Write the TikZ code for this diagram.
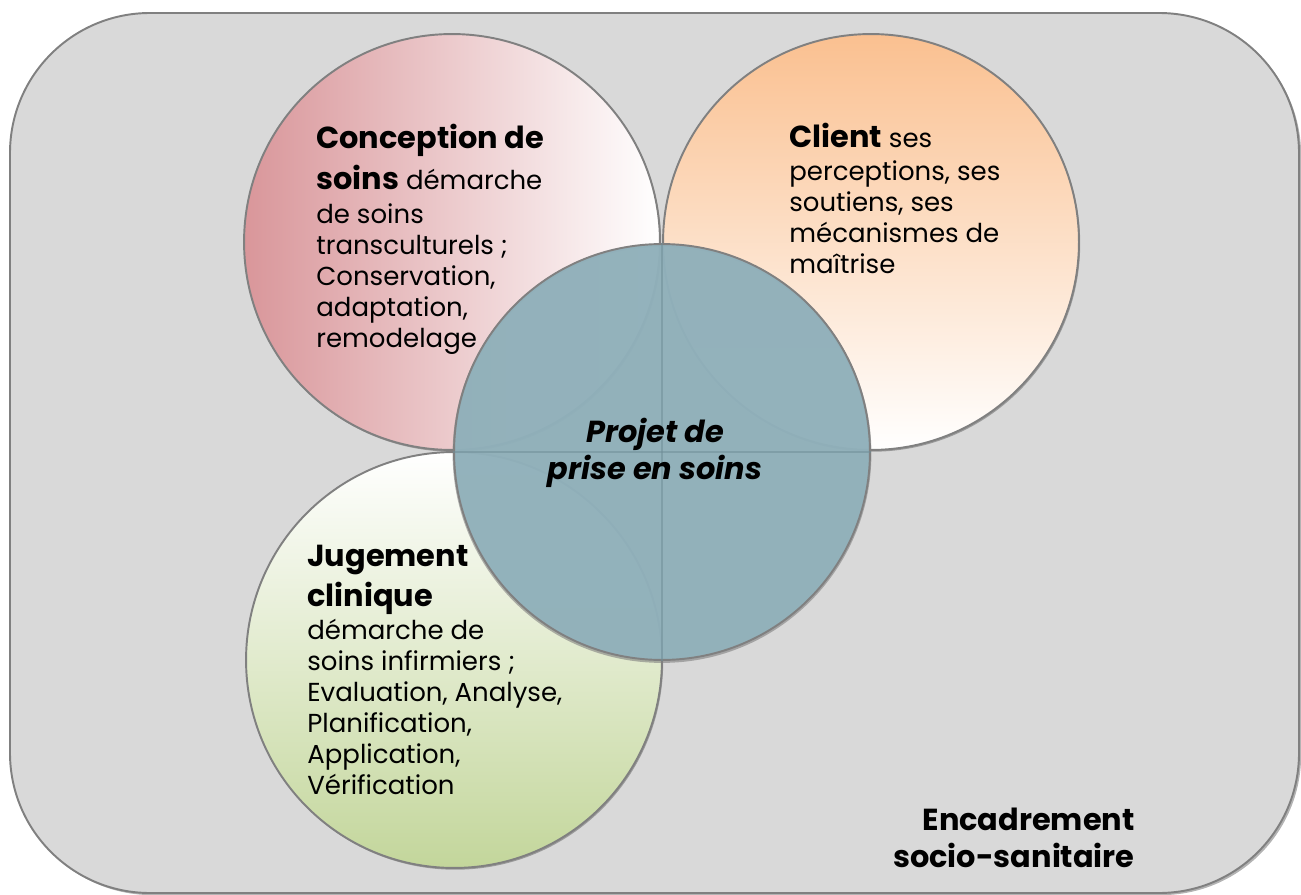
\documentclass[tikz,border=0pt]{standalone}
\usepackage{fontspec}
\setmainfont{Poppins}
\usepackage{tikz}
\usetikzlibrary{shadows}

\definecolor{frame}{RGB}{217,217,217}
\definecolor{edge}{RGB}{128,128,128}
\definecolor{rose}{RGB}{217,150,154}
\definecolor{peach}{RGB}{250,192,144}
\definecolor{sage}{RGB}{195,214,155}
\definecolor{teal}{RGB}{144,176,186}
\definecolor{cross}{RGB}{110,140,150}

\newcommand{\bhead}[1]{{\fontsize{17.3}{21}\selectfont\bfseries #1}}

\begin{document}
\begin{tikzpicture}[x=0.02cm, y=-0.02cm,
        disc/.style={circle, draw=edge, line width=1.1pt, minimum size=8.32cm, inner sep=0pt},
        bubble/.style={disc, drop shadow={shadow xshift=0.7pt, shadow yshift=-1pt, opacity=0.7, fill=edge}},
        blurb/.style={inner sep=0pt, align=left, anchor=north west, font=\fontsize{14.8}{17.6}\selectfont},
        bigtext/.style={inner sep=0pt, font=\fontsize{17.3}{21}\selectfont\bfseries}]
        \useasboundingbox (0,0) rectangle (1301,895);

        % Define the frame
        \draw[draw=edge, line width=1.1pt, fill=frame, rounded corners=2.8cm,
            drop shadow={shadow xshift=1.2pt, shadow yshift=-1.2pt, opacity=0.6, fill=edge}]
            (10,13) rectangle (1299,893);

        % Define the circles
        \node[bubble, left color=rose, right color=white] (concept) at (452,242) {};
        \node[bubble, top color=peach, bottom color=white] (client) at (871,242) {};
        \node[bubble, top color=white, bottom color=sage] (jugement) at (454,660) {};
        \draw[edge, line width=1.6pt, opacity=0.6] (662,453.5) circle[radius=208];
        \node[disc, fill=teal, fill opacity=0.97] (projet) at (662,452) {};

        % Define the cross
        \draw[cross, line width=1.6pt, opacity=0.5] (projet.north) -- (projet.south);
        \draw[cross, line width=1.6pt, opacity=0.5] (projet.west) -- (projet.east);

        % Texts
        \node[blurb] (concepttext) at (316,124) {\bhead{Conception de}\\[3.9pt]\bhead{soins} démarche\\[1.7pt]
            de soins\\ transculturels ;\\ Conservation,\\ adaptation,\\ remodelage};
        \node[blurb] (clienttext) at (789,123) {\bhead{Client} ses\\[1pt] perceptions, ses\\
            soutiens, ses\\ mécanismes de\\ maîtrise};
        \node[blurb] (jugementtext) at (307,545) {\bhead{Jugement}\\[2.8pt]\bhead{clinique}\\[1.7pt]
            démarche de\\ soins infirmiers ;\\ Evaluation, Analyse,\\ Planification,\\ Application,\\ Vérification};
        \node[bigtext, align=center, anchor=north, font=\fontsize{17.3}{21}\selectfont\bfseries\itshape]
            (projettext) at (655,418) {Projet de\\ prise en soins};
        \node[bigtext, align=right, anchor=north east] (cadre) at (1135,808) {Encadrement\\ socio-sanitaire};

    \end{tikzpicture}
\end{document}
